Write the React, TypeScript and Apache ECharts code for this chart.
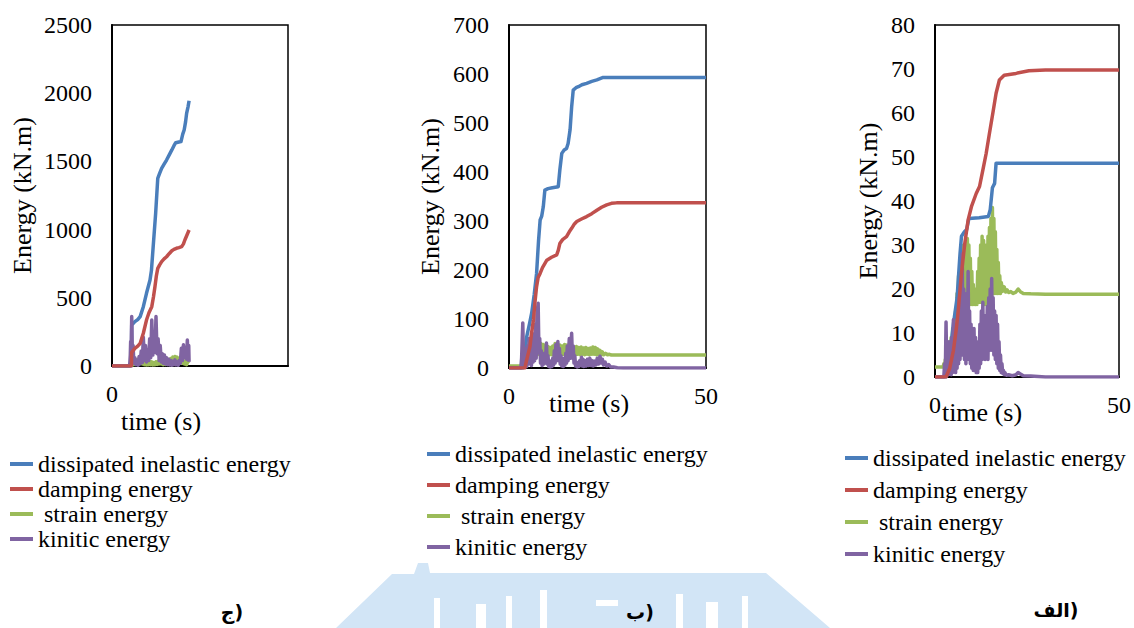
import React, { useEffect, useRef } from "react";
import * as echarts from "echarts";

type Pt = [number, number];

const SERIF = "Liberation Serif";

const seriesNames = [
  "dissipated inelastic energy",
  "damping energy",
  " strain energy",
  "kinitic energy",
];
const seriesColors = ["#4a7ebb", "#c0504d", "#9bbb59", "#8064a2"];

const timeTicks = [0, 50];
const yMaxByPanel = [2500, 700, 80];
const yStepByPanel = [500, 100, 10];
const panelCaptions = ["ج)", "ب)", "الف)"];

// ---- panel ج ----
const jDissipated: Pt[] = [
  [0, 0], [5.5, 0], [5.6, 300], [6.5, 325], [7.3, 340], [8.0, 362], [8.9, 435], [9.8, 533],
  [10.8, 630], [11.2, 700], [11.7, 875], [12.4, 1119], [13.0, 1376], [13.5, 1410], [14.1, 1449],
  [14.8, 1480], [15.5, 1510], [16.3, 1550], [17.0, 1584], [17.6, 1615], [18.1, 1637], [19.0, 1642],
  [19.6, 1645], [20.1, 1700], [20.5, 1730], [20.9, 1790], [21.2, 1852], [21.6, 1900], [21.9, 1945],
];
const jDamping: Pt[] = [
  [0, 0], [5.5, 0], [5.6, 100], [6.5, 129], [7.3, 145], [8.0, 166], [8.9, 240],
  [9.8, 337], [10.5, 390], [11.3, 435], [11.8, 510], [12.2, 581], [12.6, 660], [13.0, 716],
  [13.5, 740], [14.1, 765], [14.8, 785], [15.5, 801], [16.3, 825], [17.0, 845], [17.6, 855],
  [18.3, 863], [19.0, 868], [19.8, 875], [20.3, 895], [20.7, 924], [21.3, 960], [21.9, 997],
];
const jStrain: Pt[] = [
  [0, 0], [5.0, 0], [5.3, 20], [5.6, 5], [5.9, 40], [6.2, 10], [6.5, 50], [6.8, 15], [7.1, 45],
  [7.4, 12], [7.7, 55], [8.0, 20], [8.3, 50], [8.6, 15], [8.9, 40], [9.2, 10], [9.5, 35], [9.8, 8],
  [10.1, 30], [10.4, 10], [10.7, 35], [11.0, 10], [11.3, 30], [11.6, 8], [11.9, 25], [12.2, 10],
  [12.5, 30], [12.8, 12], [13.1, 35], [13.4, 15], [13.7, 40], [14.0, 15], [14.3, 35], [14.6, 10],
  [14.9, 30], [15.2, 12], [15.5, 35], [15.8, 15], [16.1, 45], [16.4, 20], [16.7, 55], [17.0, 25],
  [17.3, 65], [17.6, 30], [17.9, 70], [18.2, 35], [18.5, 65], [18.8, 30], [19.1, 55], [19.4, 25],
  [19.7, 45], [20.0, 20], [20.3, 40], [20.6, 15], [20.9, 35], [21.2, 10], [21.5, 30], [21.9, 20],
];
const jKinetic: Pt[] = [
  [0, 0], [5.0, 0], [5.2, 80], [5.3, 180], [5.4, 40], [5.6, 362], [5.8, 60], [6.0, 150], [6.2, 20],
  [6.5, 60], [6.8, 10], [7.1, 40], [7.4, 5], [7.7, 70], [8.0, 15], [8.3, 110], [8.6, 25], [8.9, 210],
  [9.2, 40], [9.5, 150], [9.8, 30], [10.1, 120], [10.4, 40], [10.7, 200], [11.0, 60], [11.3, 337],
  [11.6, 80], [11.9, 250], [12.2, 100], [12.5, 362], [12.8, 90], [13.1, 200], [13.4, 40], [13.7, 150],
  [14.0, 30], [14.3, 90], [14.6, 20], [14.9, 80], [15.2, 15], [15.5, 60], [15.8, 10], [16.1, 50],
  [16.4, 8], [16.7, 40], [17.0, 5], [17.3, 35], [17.6, 10], [17.9, 45], [18.2, 8], [18.5, 30],
  [18.8, 5], [19.1, 40], [19.4, 20], [19.7, 130], [20.0, 40], [20.3, 155], [20.6, 60], [20.9, 120],
  [21.2, 50], [21.4, 190], [21.6, 80], [21.8, 150], [21.9, 30],
];

// ---- panel ب ----
const bDissipated: Pt[] = [
  [0, 0], [3.5, 0], [4.0, 30], [4.5, 64], [5.2, 90], [5.75, 112], [6.4, 150], [7.0, 193],
  [7.5, 260], [7.9, 302], [8.3, 310], [8.7, 329], [9.1, 363], [9.9, 366], [11.0, 368], [12.5, 370],
  [12.9, 404], [13.4, 438], [14.0, 445], [14.6, 448], [15.0, 458], [15.5, 486], [15.9, 533],
  [16.3, 567], [17.0, 572], [17.6, 574], [18.5, 578], [19.7, 581], [21.0, 585], [22.3, 588],
  [23.9, 593], [50, 593],
];
const bDamping: Pt[] = [
  [0, 0], [4.0, 0], [4.6, 20], [5.3, 43], [5.7, 70], [6.2, 98], [6.6, 135], [7.0, 166], [7.4, 185],
  [7.9, 193], [8.5, 205], [9.6, 220], [10.8, 226], [12.1, 231], [12.5, 240], [12.9, 254], [13.6, 262],
  [14.6, 268], [15.3, 278], [15.9, 285], [16.6, 294], [17.2, 299], [18.4, 304], [19.7, 309],
  [21.0, 315], [22.3, 322], [23.5, 328], [24.8, 333], [26.0, 336], [27.3, 337], [50, 337],
];
const bStrain: Pt[] = [
  [0, 4], [3.0, 4], [3.3, 10], [3.6, 5], [3.9, 30], [4.2, 20], [4.5, 45], [4.8, 25], [5.1, 48],
  [5.4, 28], [5.7, 50], [6.0, 27], [6.3, 52], [6.6, 28], [6.9, 50], [7.2, 27], [7.5, 52], [7.8, 28],
  [8.1, 50], [8.4, 27], [8.7, 48], [9.0, 28], [9.3, 46], [9.6, 27], [9.9, 44], [10.2, 27], [10.5, 42],
  [10.8, 27], [11.1, 45], [11.4, 28], [11.7, 50], [12.0, 28], [12.3, 49], [12.6, 27], [12.9, 47],
  [13.2, 27], [13.5, 45], [13.8, 28], [14.1, 48], [14.4, 27], [14.7, 47], [15.0, 28], [15.3, 45],
  [15.6, 27], [15.9, 44], [16.2, 28], [16.5, 43], [16.8, 27], [17.1, 44], [17.4, 28], [17.7, 42],
  [18.0, 27], [18.3, 43], [18.6, 28], [18.9, 41], [19.2, 27], [19.5, 42], [19.8, 28], [20.1, 40],
  [20.4, 27], [20.7, 41], [21.0, 28], [21.3, 43], [21.6, 28], [21.9, 42], [22.2, 27], [22.5, 39],
  [22.8, 27], [23.1, 36], [23.4, 27], [23.7, 33], [24.0, 27], [24.5, 30], [25.0, 27], [25.5, 28],
  [26.0, 26.5], [30, 26.5], [50, 26.5],
];
const bKinetic: Pt[] = [
  [0, 0], [3.0, 0], [3.2, 20], [3.5, 92], [3.7, 10], [3.9, 40], [4.1, 5], [4.3, 30], [4.5, 3],
  [4.7, 45], [4.9, 8], [5.1, 60], [5.3, 10], [5.5, 35], [5.7, 5], [5.9, 50], [6.1, 12], [6.3, 70],
  [6.5, 15], [6.7, 90], [6.9, 20], [7.1, 110], [7.4, 132], [7.6, 30], [7.8, 60], [8.0, 10], [8.2, 35],
  [8.4, 5], [8.6, 25], [8.8, 8], [9.0, 30], [9.2, 10], [9.5, 51], [9.7, 8], [9.9, 25], [10.1, 3],
  [10.3, 15], [10.5, 2], [10.7, 12], [10.9, 3], [11.1, 20], [11.3, 6], [11.5, 35], [11.7, 10],
  [11.9, 48], [12.1, 15], [12.4, 54], [12.6, 15], [12.8, 40], [13.0, 8], [13.2, 25], [13.4, 4],
  [13.6, 15], [13.8, 3], [14.0, 20], [14.2, 6], [14.4, 30], [14.6, 10], [14.8, 45], [15.0, 15],
  [15.3, 60], [15.6, 20], [15.9, 71], [16.1, 20], [16.3, 45], [16.5, 10], [16.7, 25], [16.9, 4],
  [17.1, 12], [17.3, 2], [17.5, 10], [17.7, 3], [17.9, 15], [18.1, 5], [18.4, 22], [18.6, 4],
  [18.8, 18], [19.0, 3], [19.3, 15], [19.6, 4], [19.9, 18], [20.2, 5], [20.5, 20], [20.8, 5],
  [21.1, 15], [21.4, 4], [21.7, 14], [22.0, 6], [22.4, 20], [22.7, 8], [23.1, 24], [23.4, 10],
  [23.7, 18], [24.0, 6], [24.4, 12], [24.8, 4], [25.3, 7], [25.8, 2], [26.5, 2], [27.5, 0.5],
  [29, 0], [50, 0],
];

// ---- panel الف ----
const aDissipated: Pt[] = [
  [0, 0], [3.0, 0], [4.0, 5], [5.0, 12], [6.0, 18], [6.8, 28], [7.2, 32], [8.0, 33], [8.6, 33.5],
  [9.2, 36], [12.0, 36.2], [14.5, 36.5], [15.0, 38], [15.6, 43], [16.2, 44], [16.6, 48.6], [50, 48.6],
];
const aDamping: Pt[] = [
  [0, 0], [3.0, 0], [4.0, 2], [5.0, 6], [5.8, 11], [6.3, 15], [7.2, 23.6], [8.1, 30.4], [9.0, 35.7],
  [9.9, 38.7], [11.2, 41.7], [12.1, 43.3], [13.0, 47], [13.9, 50.8], [14.8, 55.4], [15.7, 59.9],
  [16.6, 64.5], [17.5, 67.5], [18.8, 68.6], [22.0, 69.0], [25.5, 69.6], [30, 69.8], [50, 69.8],
];
const aStrain: Pt[] = [
  [0, 2.3], [2.2, 2.3], [2.4, 3], [2.6, 2], [2.8, 4], [3.0, 2.5], [3.2, 5], [3.4, 3], [3.6, 6],
  [3.8, 4], [4.0, 8], [4.2, 5], [4.4, 9], [4.6, 6], [4.8, 11], [5.0, 8], [5.2, 13], [5.4, 9],
  [5.6, 15], [5.8, 11], [6.0, 19], [6.2, 14], [6.4, 23], [6.6, 16], [6.8, 27], [7.0, 17], [7.2, 30],
  [7.4, 17], [7.6, 29], [7.8, 16.5], [8.0, 27], [8.2, 16.5], [8.4, 30], [8.6, 17], [8.8, 31.5],
  [9.0, 17], [9.2, 30], [9.4, 16.5], [9.6, 27], [9.8, 16.5], [10.0, 24], [10.2, 16.5], [10.4, 21],
  [10.6, 16.5], [10.8, 19], [11.0, 16.5], [11.2, 20], [11.4, 16.5], [11.6, 24], [11.8, 17],
  [12.0, 27], [12.2, 17], [12.4, 30], [12.6, 17], [12.8, 32], [13.0, 17], [13.2, 31], [13.4, 16.5],
  [13.6, 28], [13.8, 16.5], [14.0, 30], [14.2, 17], [14.4, 32], [14.6, 17], [14.8, 34], [15.0, 17.5],
  [15.2, 36], [15.4, 18], [15.6, 38.5], [15.8, 19], [16.0, 36], [16.2, 19], [16.4, 33], [16.6, 19],
  [16.8, 29], [17.0, 19], [17.2, 26], [17.4, 19], [17.6, 23], [17.8, 19], [18.0, 21.5], [18.4, 19.5],
  [18.8, 20.5], [19.2, 19.3], [19.6, 19.8], [20.0, 19.2], [20.6, 19.4], [21.2, 19.0], [22.0, 19.3],
  [22.6, 20.0], [23.2, 19.4], [24, 19.0], [26, 18.9], [30, 18.8], [50, 18.8],
];
const aKinetic: Pt[] = [
  [0, 0], [2.4, 0], [2.6, 3], [2.8, 0.5], [3.0, 12.5], [3.2, 1], [3.4, 6], [3.6, 0.5], [3.8, 8],
  [4.0, 1], [4.2, 5], [4.4, 0.5], [4.6, 9], [4.8, 1], [5.0, 13], [5.2, 2], [5.4, 12], [5.6, 1],
  [5.8, 10], [6.0, 2], [6.2, 14], [6.4, 3], [6.6, 18], [6.8, 4], [7.0, 22], [7.2, 6], [7.4, 28],
  [7.6, 5], [7.8, 20], [8.0, 4], [8.2, 16], [8.4, 3], [8.6, 19], [8.8, 5], [9.0, 24], [9.2, 4],
  [9.4, 15], [9.6, 3], [9.8, 12], [10.0, 2], [10.2, 11], [10.4, 1.5], [10.6, 11], [10.8, 2],
  [11.0, 9], [11.2, 1], [11.4, 6], [11.6, 1], [11.8, 8], [12.0, 2], [12.2, 12], [12.4, 3],
  [12.6, 15], [12.8, 4], [13.0, 17], [13.2, 5], [13.4, 13], [13.6, 4], [13.8, 14], [14.0, 5],
  [14.2, 16], [14.4, 4], [14.6, 18], [14.8, 6], [15.0, 20], [15.2, 7], [15.4, 22.4], [15.6, 6],
  [15.8, 18], [16.0, 5], [16.2, 15], [16.4, 4], [16.6, 14], [16.8, 3], [17.0, 12], [17.2, 2],
  [17.4, 8], [17.6, 1.5], [17.8, 5], [18.0, 1], [18.2, 3], [18.4, 0.8], [18.6, 1.5], [18.8, 0.5],
  [19.0, 1], [19.4, 0.4], [20, 0.5], [21, 0.3], [22, 0.5], [22.6, 1.0], [23.2, 0.7], [24, 0.3],
  [26, 0.2], [28, 0.1], [30, 0], [50, 0],
];

// per panel: [dissipated, damping, strain, kinetic]
const panelSeries: Pt[][][] = [
  [jDissipated, jDamping, jStrain, jKinetic],
  [bDissipated, bDamping, bStrain, bKinetic],
  [aDissipated, aDamping, aStrain, aKinetic],
];

// layout of the three plot frames
const grids = [
  { left: 112, top: 25, width: 176, height: 341 },
  { left: 509, top: 25, width: 197, height: 343 },
  { left: 935, top: 25, width: 186, height: 352 },
];
const xNameGap = [42, 22, 22];
const xNamePad = [78, 37, 90];
const yNameGap = [77, 66, 54];
const legendPos = [
  { left: 10, top: 452, gap: 1 },
  { left: 427, top: 442, gap: 7 },
  { left: 845, top: 446, gap: 8 },
];
const captionPos = [
  { x: 232, y: 612 },
  { x: 640, y: 612 },
  { x: 1056, y: 610 },
];

// drawing order inside a panel: strain, dissipated, kinetic, damping
const drawOrder = [2, 0, 3, 1];

function buildOption(): echarts.EChartsOption {
  const xAxis = grids.map((_, i) => ({
    type: "value" as const,
    gridIndex: i,
    min: timeTicks[0],
    max: timeTicks[1],
    interval: timeTicks[1] - timeTicks[0],
    axisLine: { show: true, onZero: false, lineStyle: { color: "#000", width: 2 } },
    axisTick: { show: false },
    splitLine: { show: false },
    axisLabel: {
      fontFamily: SERIF,
      fontSize: 24,
      color: "#000",
      margin: 16,
      showMaxLabel: i !== 0,
      formatter: (v: number) => String(v),
    },
    name: "time (s)",
    nameLocation: "middle" as const,
    nameGap: xNameGap[i],
    nameMoveOverlap: false,
    nameTextStyle: {
      fontFamily: SERIF,
      fontSize: 26,
      color: "#000",
      padding: [0, xNamePad[i], 0, 0],
    },
  }));

  const yAxis = grids.map((_, i) => ({
    type: "value" as const,
    gridIndex: i,
    min: 0,
    max: yMaxByPanel[i],
    interval: yStepByPanel[i],
    axisLine: { show: true, lineStyle: { color: "#000", width: 2 } },
    axisTick: { show: false },
    splitLine: { show: false },
    axisLabel: {
      fontFamily: SERIF,
      fontSize: 24,
      color: "#000",
      margin: 20,
      formatter: (v: number) => String(v),
    },
    name: "Energy (kN.m)",
    nameLocation: "middle" as const,
    nameGap: yNameGap[i],
    nameMoveOverlap: false,
    nameTextStyle: { fontFamily: SERIF, fontSize: 26, color: "#000" },
  }));

  const series: any[] = [];
  panelSeries.forEach((panel, p) => {
    drawOrder.forEach((k, order) => {
      series.push({
        type: "line",
        name: seriesNames[k],
        xAxisIndex: p,
        yAxisIndex: p,
        data: panel[k],
        showSymbol: false,
        symbol: "none",
        z: 2 + order,
        lineStyle: { color: seriesColors[k], width: 3.5, join: "round" },
        itemStyle: { color: seriesColors[k] },
      });
    });
  });

  const legend = legendPos.map((lp) => ({
    data: seriesNames,
    orient: "vertical" as const,
    left: lp.left,
    top: lp.top,
    itemGap: lp.gap,
    itemWidth: 23,
    itemHeight: 4,
    icon: "rect",
    padding: 0,
    selectedMode: false,
    textStyle: { fontFamily: SERIF, fontSize: 24, lineHeight: 24, color: "#000" },
  }));

  const graphic: any[] = [
    // faint stamp behind the bottom captions
    {
      type: "polygon",
      z: 0,
      silent: true,
      shape: {
        points: [
          [336, 628], [392, 574], [414, 574], [418, 563], [428, 563], [430, 573],
          [766, 573], [830, 628],
        ],
      },
      style: { fill: "#d2e5f6" },
    },
    ...[
      [434, 598, 6, 30], [476, 604, 10, 24], [506, 596, 6, 32], [540, 590, 7, 38],
      [596, 600, 22, 6], [676, 594, 7, 34], [706, 602, 12, 26], [742, 596, 6, 32],
    ].map(([x, y, w, h]) => ({
      type: "rect",
      z: 1,
      silent: true,
      shape: { x, y, width: w, height: h },
      style: { fill: "#ffffff" },
    })),
    ...panelCaptions.map((c, i) => ({
      type: "text",
      z: 10,
      x: captionPos[i].x,
      y: captionPos[i].y,
      style: {
        text: c,
        fontFamily: "DejaVu Sans",
        fontWeight: "bold",
        fontSize: 19,
        fill: "#000",
        align: "center",
        verticalAlign: "middle",
      },
    })),
  ];

  return {
    animation: false,
    backgroundColor: "#ffffff",
    textStyle: { fontFamily: SERIF },
    grid: grids.map((g) => ({
      ...g,
      show: true,
      borderColor: "#000",
      borderWidth: 1.5,
      backgroundColor: "transparent",
      containLabel: false,
    })),
    xAxis,
    yAxis,
    legend,
    series,
    graphic,
  };
}

export default function App() {
  const ref = useRef<HTMLDivElement>(null);

  useEffect(() => {
    if (!ref.current) return;
    const chart = echarts.init(ref.current, undefined, { renderer: "svg" });
    chart.setOption(buildOption());
    return () => chart.dispose();
  }, []);

  return (
    <div
      ref={ref}
      style={{ position: "absolute", left: 0, top: 0, width: 1134, height: 628, background: "#fff" }}
    />
  );
}
